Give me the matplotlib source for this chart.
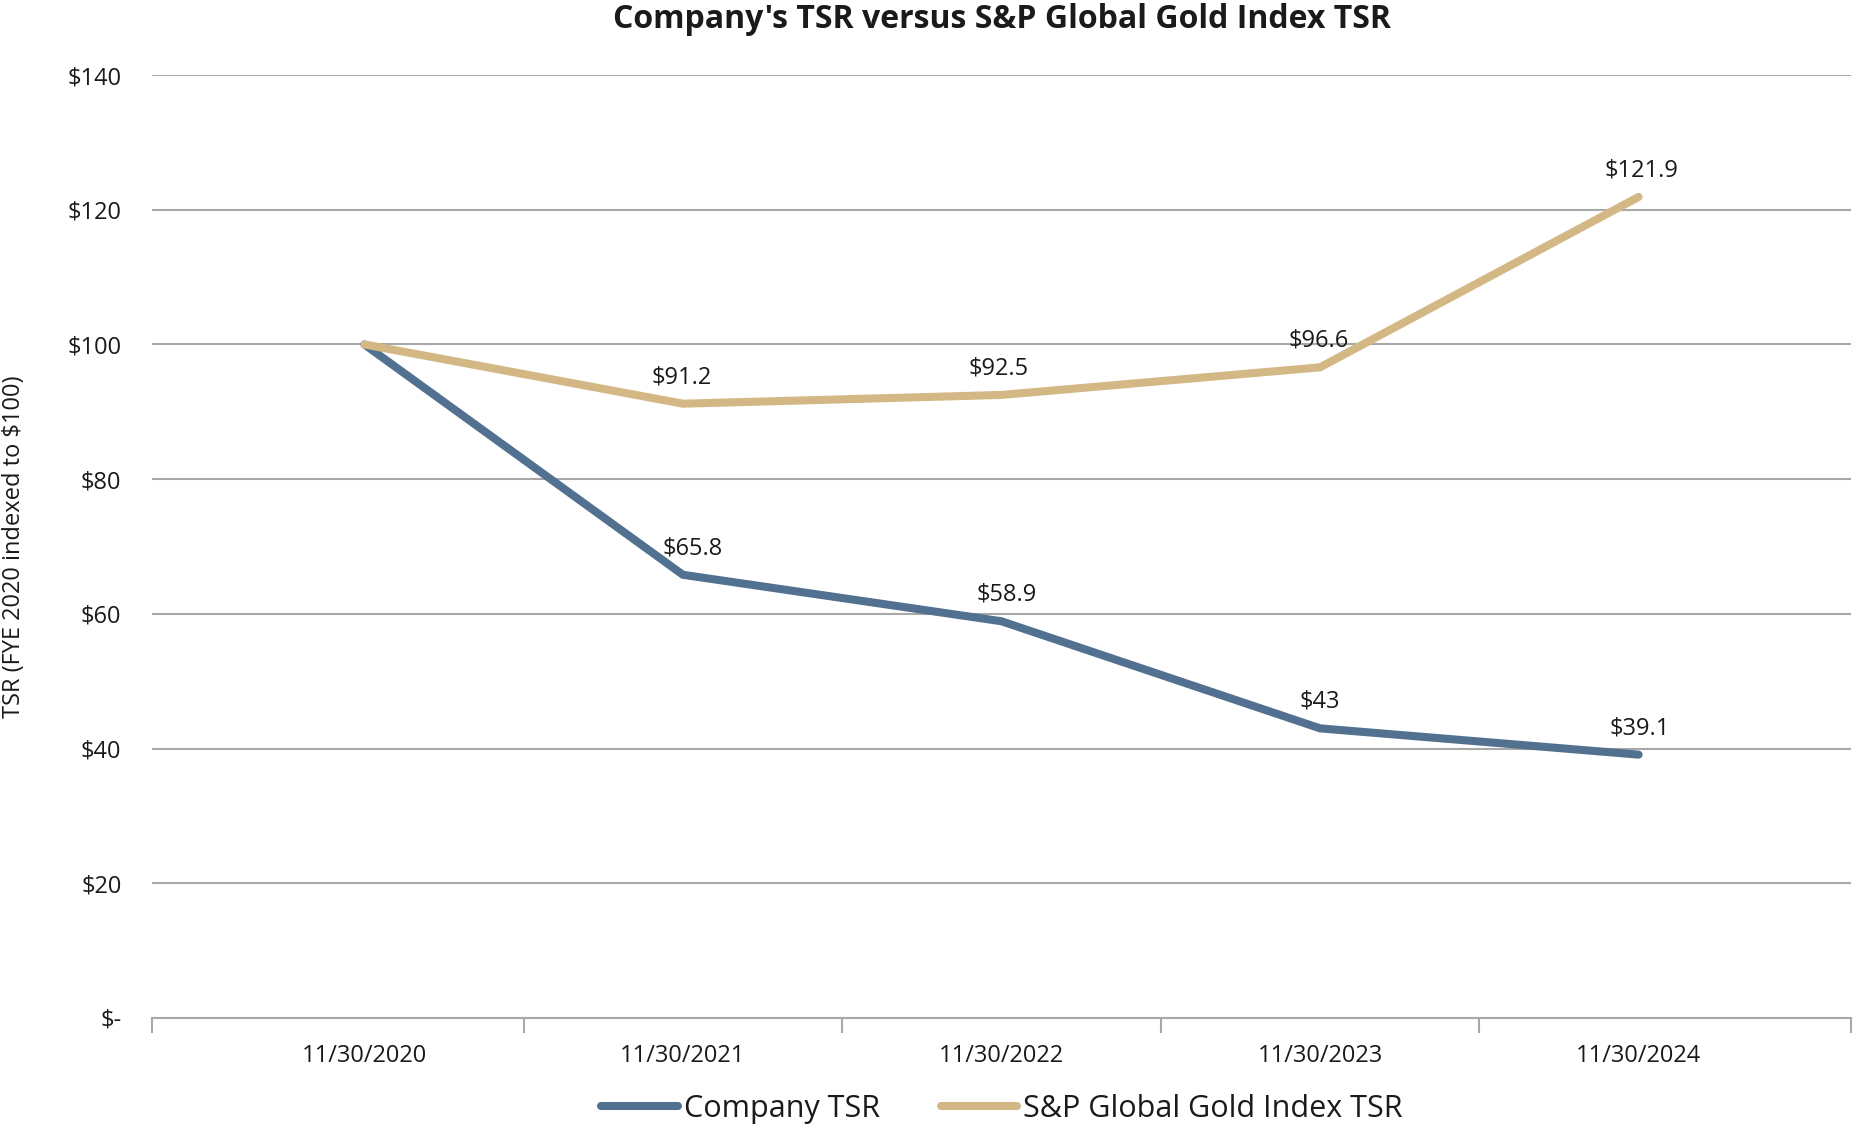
import matplotlib
matplotlib.use("Agg")
import matplotlib.pyplot as plt
from matplotlib.lines import Line2D

dates = ["11/30/2020", "11/30/2021", "11/30/2022", "11/30/2023", "11/30/2024"]
company_tsr = [100, 65.8, 58.9, 43, 39.1]
gold_tsr = [100, 91.2, 92.5, 96.6, 121.9]
company_labels = ["", "$65.8", "$58.9", "$43", "$39.1"]
gold_labels = ["", "$91.2", "$92.5", "$96.6", "$121.9"]
y_ticks = [0, 20, 40, 60, 80, 100, 120, 140]
y_tick_labels = ["$-", "$20", "$40", "$60", "$80", "$100", "$120", "$140"]

plt.rcParams['font.family'] = ['Open Sans', 'DejaVu Sans']

c_company = "#52708f"
c_gold = "#d3b784"
c_grid = "#a8a8a8"
c_text = "#1a1a1a"

W, H = 1853, 1128
fig = plt.figure(figsize=(W / 100, H / 100), dpi=100)
ax = fig.add_axes([152 / W, 110 / H, (1851 - 152) / W, (1018 - 75) / H])

x = list(range(len(dates)))
ax.plot(x, company_tsr, color=c_company, lw=5.8, solid_capstyle='round',
        solid_joinstyle='miter', zorder=3)
ax.plot(x, gold_tsr, color=c_gold, lw=5.8, solid_capstyle='round',
        solid_joinstyle='miter', zorder=4)

company_dx = [0, 7, 4, 0, 1]
gold_dx = [0, -1, -2, -1, 2]
for xi, (v, lab) in enumerate(zip(company_tsr, company_labels)):
    if lab:
        ax.annotate(lab, (xi, v), xytext=(company_dx[xi], 19), textcoords='offset points',
                    ha='center', va='center', fontsize=17, color=c_text)
for xi, (v, lab) in enumerate(zip(gold_tsr, gold_labels)):
    if lab:
        ax.annotate(lab, (xi, v), xytext=(gold_dx[xi], 19), textcoords='offset points',
                    ha='center', va='center', fontsize=17, color=c_text)

ax.set_xlim(-2 / 3, len(dates) - 1 + 2 / 3)
ax.set_ylim(0, 140)
ax.set_yticks(y_ticks)
ax.set_yticklabels(y_tick_labels, fontsize=17, color=c_text)
ax.tick_params(axis='y', length=0, pad=22)
ax.set_xticks(x)
ax.set_xticklabels(dates, fontsize=17, color=c_text)
ax.tick_params(axis='x', which='major', length=0, pad=19)
ax.set_xticks([-2 / 3, 0.5, 1.5, 2.5, 3.5, len(dates) - 1 + 2 / 3], minor=True)
ax.tick_params(axis='x', which='minor', length=11, width=1.5, color=c_grid)

ax.grid(axis='y', color=c_grid, lw=1.5)
ax.set_axisbelow(True)
for s in ['top', 'right', 'left']:
    ax.spines[s].set_visible(False)
ax.spines['bottom'].set_color(c_grid)
ax.spines['bottom'].set_linewidth(1.5)

ax.set_ylabel("TSR (FYE 2020 indexed to $100)", fontsize=17, color=c_text)
ax.yaxis.set_label_coords(-0.074, 0.5)

fig.text(1002 / W, 1 - 19 / H, "Company's TSR versus S&P Global Gold Index TSR",
         ha='center', va='center', fontsize=23, fontweight='bold', color=c_text)

handles = [Line2D([], [], color=c_company, lw=5.8, solid_capstyle='round'),
           Line2D([], [], color=c_gold, lw=5.8, solid_capstyle='round')]
fig.legend(handles, ["Company TSR", "S&P Global Gold Index TSR"],
           loc='center', bbox_to_anchor=(1002 / W, 1 - 1109 / H), ncol=2,
           frameon=False, fontsize=22, handlelength=2.5, handletextpad=0.2,
           columnspacing=2.0, labelcolor=c_text)

fig.savefig("out.png", dpi=100)
